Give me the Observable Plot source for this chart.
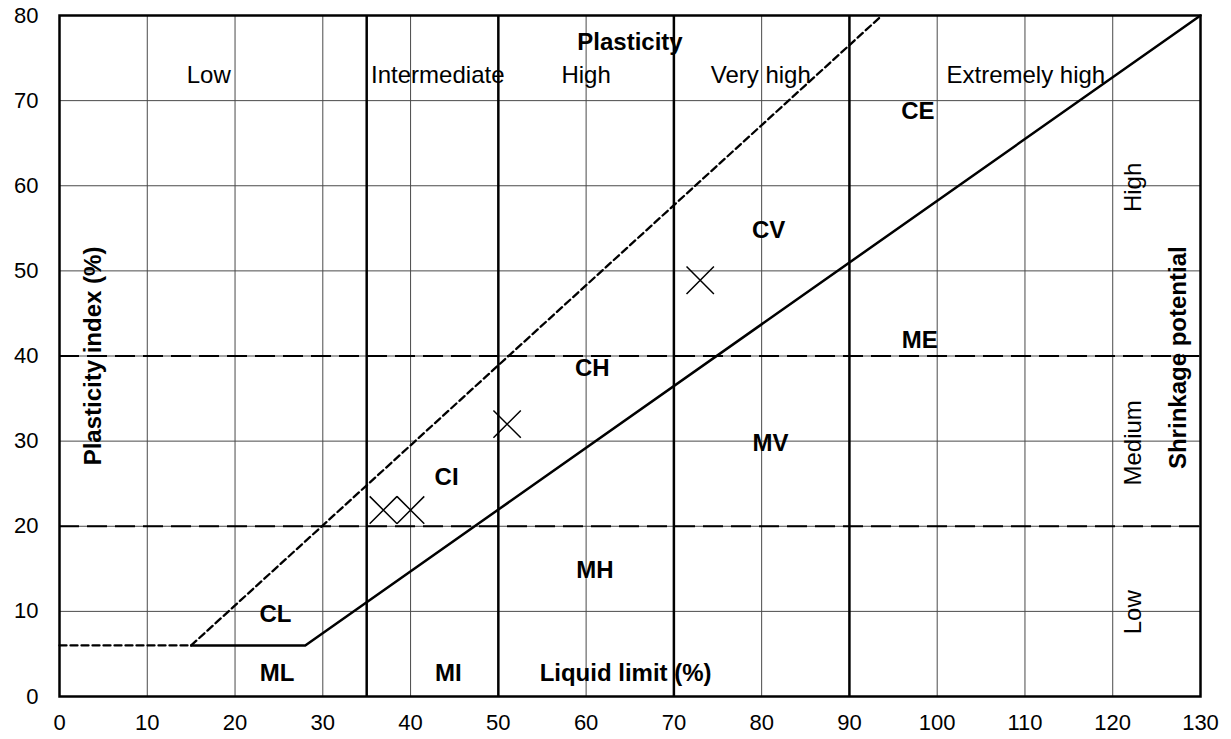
<!DOCTYPE html>
<html>
<head>
<meta charset="utf-8">
<script src="https://cdn.jsdelivr.net/npm/d3@7"></script>
<script src="https://cdn.jsdelivr.net/npm/@observablehq/plot@0.6"></script>
<style>
  html, body { margin: 0; padding: 0; background: #fff; }
  #chart { width: 1231px; height: 739px; }
</style>
</head>
<body>
<div id="chart"></div>
<script>
// ---- data ----
const xTicks = [0, 10, 20, 30, 40, 50, 60, 70, 80, 90, 100, 110, 120, 130];
const yTicks = [0, 10, 20, 30, 40, 50, 60, 70, 80];

// A-line (solid) and U-line (dashed), liquid limit vs plasticity index
const aLineLL = [15, 28, 130];
const aLinePI = [6, 6, 80];
const uLineLL = [15, 93.7];
const uLinePI = [6, 80];
const uBaseLL = [0, 15];
const uBasePI = [6, 6];

// plasticity boundaries (liquid limit) and shrinkage boundaries (plasticity index)
const plasticityBounds = [35, 50, 70, 90];
const shrinkageBounds = [20, 40];

// samples
const sampleLL = [36.9, 40.0, 51.0, 73.0];
const samplePI = [21.9, 21.9, 32.0, 48.9];

// plasticity class labels along top
const plasticityNames = ["Low", "Intermediate", "High", "Very high", "Extremely high"];
const plasticityNameLL = [17.0, 43.1, 60.0, 79.9, 110.1];
const plasticityNamePI = [73, 73, 73, 73, 73];

// soil zone codes
const zoneCodes = ["CE", "CV", "ME", "CH", "MV", "CI", "MH", "CL", "ML", "MI"];
const zoneLL = [97.8, 80.8, 98.0, 60.7, 81.0, 44.1, 61.0, 24.6, 24.8, 44.3];
const zonePI = [68.8, 54.8, 41.9, 38.6, 29.8, 25.8, 14.8, 9.6, 2.7, 2.7];

// shrinkage potential labels (rotated)
const shrinkNames = ["High", "Medium", "Low"];
const shrinkLL = [122.4, 122.4, 122.4];
const shrinkPI = [59.8, 29.8, 9.9];

const font = "'Liberation Sans', Arial, sans-serif";

const toPts = (xs, ys) => xs.map((x, i) => ({x, y: ys[i]}));

const chart = Plot.plot({
  width: 1231,
  height: 739,
  marginLeft: 59,
  marginRight: 31,
  marginTop: 15,
  marginBottom: 43,
  style: {fontFamily: font, fontSize: "22px", color: "#000", background: "#fff"},
  x: {domain: [0, 130], label: null},
  y: {domain: [0, 80], label: null},
  marks: [
    Plot.gridX(xTicks, {stroke: "#4a4a4a", strokeOpacity: 1, strokeWidth: 1}),
    Plot.gridY(yTicks, {stroke: "#4a4a4a", strokeOpacity: 1, strokeWidth: 1}),
    Plot.ruleX(plasticityBounds, {stroke: "#000", strokeWidth: 2.5}),
    Plot.ruleY(shrinkageBounds, {stroke: "#000", strokeWidth: 2.2, strokeDasharray: "20,8"}),
    Plot.line(toPts(uBaseLL, uBasePI), {x: "x", y: "y", stroke: "#000", strokeWidth: 2.3, strokeDasharray: "7,4"}),
    Plot.line(toPts(uLineLL, uLinePI), {x: "x", y: "y", stroke: "#000", strokeWidth: 2.3, strokeDasharray: "7,4"}),
    Plot.line(toPts(aLineLL, aLinePI), {x: "x", y: "y", stroke: "#000", strokeWidth: 2.5}),
    Plot.dot(toPts(sampleLL, samplePI), {x: "x", y: "y", symbol: "times", r: 12.5, stroke: "#000", strokeWidth: 1.5}),
    Plot.frame({stroke: "#000", strokeWidth: 2.5}),
    Plot.axisX(xTicks, {tickSize: 0, tickPadding: 18, fontSize: 22, label: null}),
    Plot.axisY(yTicks, {tickSize: 0, tickPadding: 21, fontSize: 22, label: null}),
    Plot.text(plasticityNames, {x: (d, i) => plasticityNameLL[i], y: (d, i) => plasticityNamePI[i], text: d => d, fontSize: 24}),
    Plot.text(["Plasticity"], {x: [65.0], y: [76.8], text: d => d, fontSize: 24, fontWeight: "bold"}),
    Plot.text(zoneCodes, {x: (d, i) => zoneLL[i], y: (d, i) => zonePI[i], text: d => d, fontSize: 24, fontWeight: "bold"}),
    Plot.text(["Liquid limit (%)"], {x: [64.5], y: [2.7], text: d => d, fontSize: 24, fontWeight: "bold"}),
    Plot.text(["Plasticity index (%)"], {x: [3.8], y: [40.0], text: d => d, fontSize: 24, fontWeight: "bold", rotate: -90}),
    Plot.text(["Shrinkage potential"], {x: [127.5], y: [39.8], text: d => d, fontSize: 24, fontWeight: "bold", rotate: -90}),
    Plot.text(shrinkNames, {x: (d, i) => shrinkLL[i], y: (d, i) => shrinkPI[i], text: d => d, fontSize: 24, rotate: -90})
  ]
});

document.getElementById("chart").appendChild(chart);
</script>
</body>
</html>
